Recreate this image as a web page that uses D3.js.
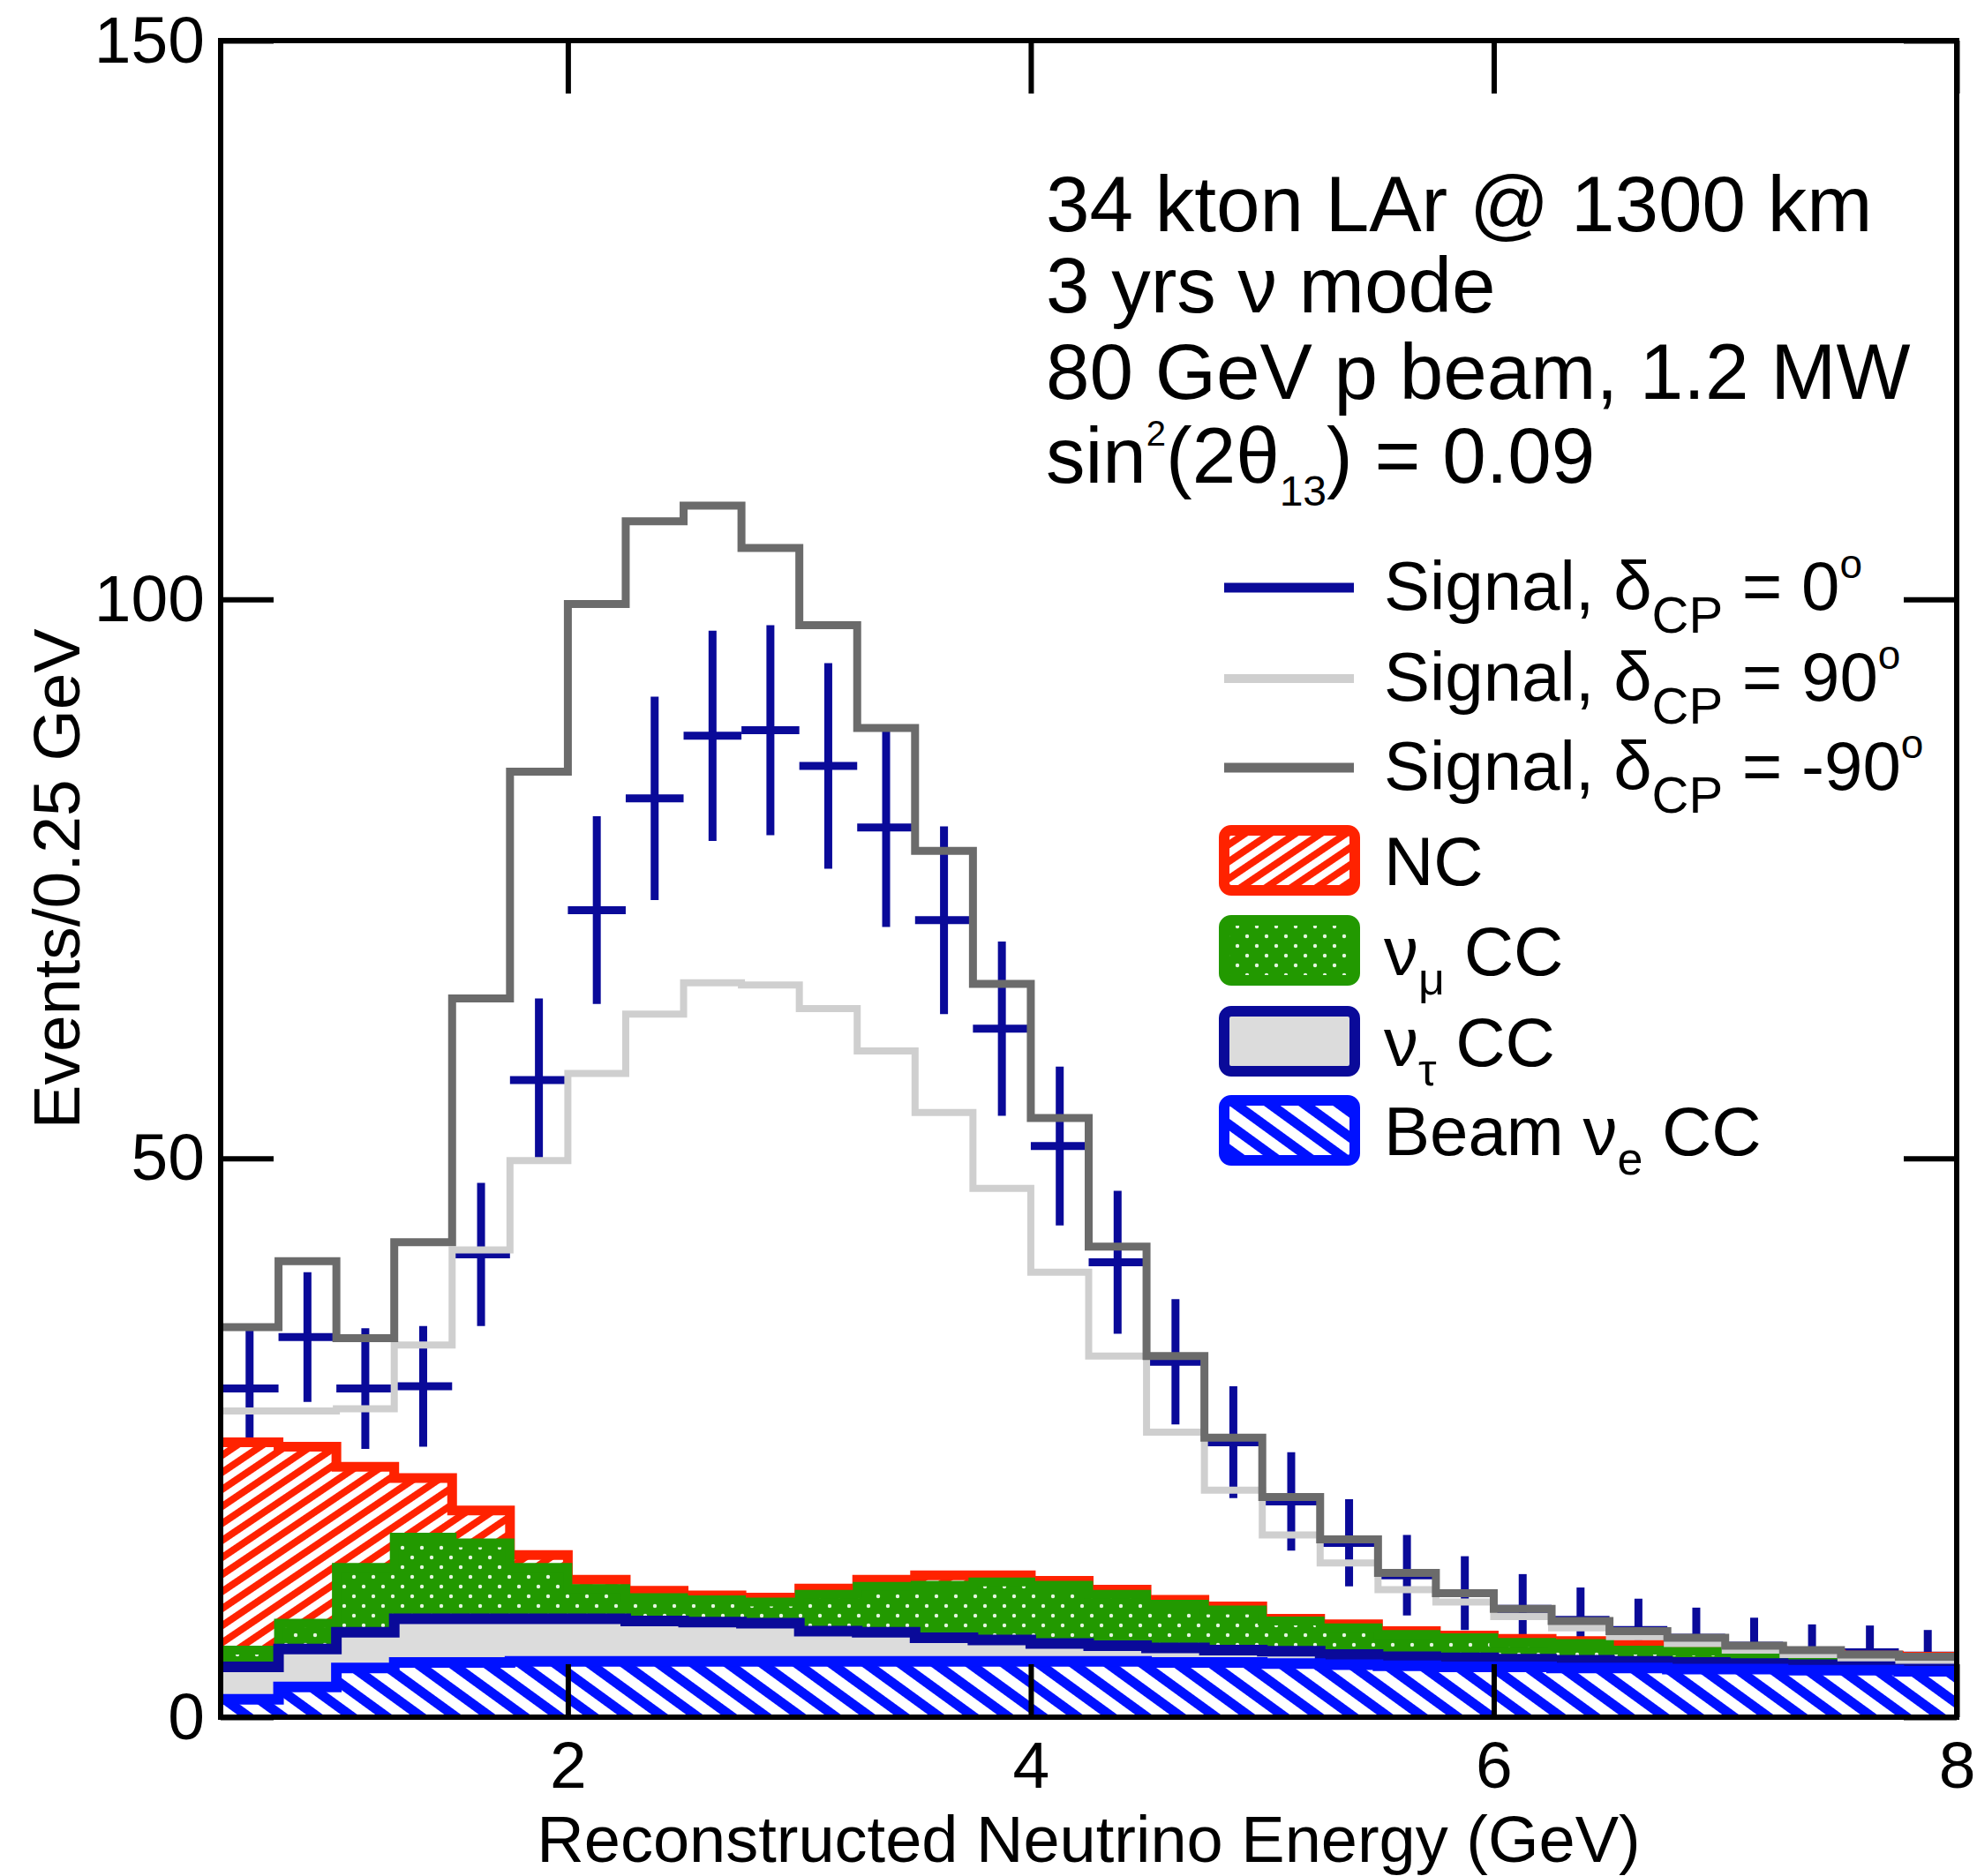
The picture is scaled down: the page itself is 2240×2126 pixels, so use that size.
<!DOCTYPE html>
<html><head><meta charset="utf-8">
<script src="https://cdn.jsdelivr.net/npm/d3@7"></script>
<style>
body{margin:0;background:#fff}
svg{display:block}
text{font-family:"Liberation Sans",Arial,Helvetica,sans-serif;fill:#000}
</style>
</head><body>
<svg id="c" width="2240" height="2126"></svg>
<script>
// ---------- data ----------
const binLow = [0.5,0.75,1.0,1.25,1.5,1.75,2.0,2.25,2.5,2.75,3.0,3.25,3.5,3.75,4.0,4.25,4.5,4.75,5.0,5.25,5.5,5.75,6.0,6.25,6.5,6.75,7.0,7.25,7.5,7.75];
const binWidth = 0.25;

// pseudo-data, signal delta_CP = 0 (with statistical errors)
const dataCP0   = [29.4,34.0,29.4,29.6,41.4,57.0,72.2,82.2,87.8,88.3,85.1,79.6,71.3,61.6,51.1,40.7,31.8,24.6,19.3,15.6,12.7,11.1,9.7,8.7,7.8,7.1,6.4,5.9,5.8,5.5];
const errCP0    = [5.4,5.8,5.4,5.4,6.4,7.3,8.4,9.1,9.4,9.4,9.2,8.9,8.4,7.8,7.1,6.4,5.6,5.0,4.4,3.9,3.6,3.3,3.1,2.9,2.8,2.7,2.5,2.4,2.4,2.3];
// signal + background, delta_CP = 90 and -90
const sigCP90   = [27.4,27.4,27.6,33.3,41.8,49.8,57.6,62.9,65.7,65.5,63.4,59.6,54.1,47.3,39.8,32.3,25.5,20.3,16.3,13.8,11.4,10.3,9.0,8.0,7.2,6.6,6.0,5.6,5.3,5.1];
const sigCPm90  = [34.9,40.8,33.9,42.5,64.3,84.6,99.6,107.0,108.4,104.6,97.7,88.5,77.5,65.6,53.6,42.1,32.3,25.0,19.7,15.9,12.9,11.1,9.7,8.6,7.7,7.1,6.4,6.0,5.6,5.4];
// stacked backgrounds (bottom to top)
const beamNueCC = [1.6,2.7,4.4,4.9,4.9,5.0,5.0,5.0,5.0,5.0,5.0,5.0,5.0,5.0,5.0,5.0,4.9,4.9,4.8,4.7,4.6,4.5,4.5,4.4,4.4,4.3,4.3,4.2,4.2,4.1];
const nutauCC   = [2.9,3.4,3.2,3.9,3.9,3.8,3.8,3.6,3.5,3.4,2.7,2.6,2.1,1.9,1.6,1.4,1.3,1.1,1.1,0.9,0.8,0.8,0.7,0.7,0.6,0.6,0.5,0.5,0.5,0.5];
const numuCC    = [1.5,2.3,5.8,7.3,6.8,4.6,2.7,2.1,2.0,1.9,3.3,4.1,4.7,5.2,5.2,4.6,3.9,3.6,2.7,2.4,2.0,1.8,1.5,1.5,1.0,1.0,0.8,0.7,0.4,0.5];
const ncBkg     = [18.6,15.8,9.0,5.3,2.9,1.1,0.8,0.6,0.4,0.4,0.5,0.6,0.9,0.6,0.4,0.4,0.4,0.3,0.2,0.3,0.3,0.2,0.3,0.2,0.5,0.2,0.3,0.2,0.4,0.3];

const xTicks = [2,4,6,8];
const yTicks = [0,50,100,150];
const xTickLabels = ["2","4","6","8"];
const yTickLabels = ["0","50","100","150"];

// ---------- layout ----------
const L = 250, R = 2217, T = 46, B = 1946;
const x = d3.scaleLinear().domain([0.5, 8]).range([L, R]);
const y = d3.scaleLinear().domain([0, 150]).range([B, T]);

const C = {
  navy: "#0a0a99", red: "#ff2200", green: "#229900", blue: "#0011ff",
  tauFill: "#dcdcdc", dark: "#6b6b6b", light: "#cfcfcf"
};

const svg = d3.select("#c");
const defs = svg.append("defs");

// red hatch (NC): lines rising to the right
const pNC = defs.append("pattern").attr("id","hatchNC").attr("patternUnits","userSpaceOnUse")
  .attr("width",40).attr("height",16).attr("patternTransform","rotate(-34)");
pNC.append("rect").attr("width",40).attr("height",16).attr("fill","#fff");
pNC.append("rect").attr("y",0).attr("width",40).attr("height",8).attr("fill",C.red);

// blue hatch (beam nue): lines descending to the right
const pBe = defs.append("pattern").attr("id","hatchBeam").attr("patternUnits","userSpaceOnUse")
  .attr("width",40).attr("height",23).attr("patternTransform","rotate(36)");
pBe.append("rect").attr("width",40).attr("height",23).attr("fill","#fff");
pBe.append("rect").attr("y",0).attr("width",40).attr("height",11).attr("fill",C.blue);

// green with white dots (numu)
const pMu = defs.append("pattern").attr("id","dotsMu").attr("patternUnits","userSpaceOnUse")
  .attr("width",22).attr("height",22);
pMu.append("rect").attr("width",22).attr("height",22).attr("fill",C.green);
pMu.append("circle").attr("cx",5).attr("cy",5).attr("r",2.2).attr("fill","#e6f7e0");
pMu.append("circle").attr("cx",16).attr("cy",16).attr("r",2.2).attr("fill","#e6f7e0");

// ---------- helpers ----------
function stepPoints(vals){
  const pts = [];
  vals.forEach((v,i)=>{ pts.push([binLow[i], v]); pts.push([binLow[i]+binWidth, v]); });
  return pts;
}
const stepLine = d3.line().x(d=>x(d[0])).y(d=>y(d[1]));
const stepArea = d3.area().x(d=>x(d[0])).y0(y(0)).y1(d=>y(d[1]));

// cumulative stack
const cumBeam = beamNueCC.map((v)=>v);
const cumTau  = beamNueCC.map((v,i)=>v+nutauCC[i]);
const cumMu   = cumTau.map((v,i)=>v+numuCC[i]);
const cumNC   = cumMu.map((v,i)=>v+ncBkg[i]);

const plot = svg.append("g");

// ---------- data points (drawn first, under stack and lines) ----------
const pts = plot.append("g").attr("stroke",C.navy).attr("stroke-width",9).attr("fill","none");
dataCP0.forEach((v,i)=>{
  const xc = x(binLow[i]+binWidth/2);
  pts.append("line").attr("x1",xc).attr("x2",xc).attr("y1",y(v+errCP0[i])).attr("y2",y(Math.max(0,v-errCP0[i])));
  pts.append("line").attr("x1",x(binLow[i])).attr("x2",x(binLow[i]+binWidth)).attr("y1",y(v)).attr("y2",y(v));
});

// ---------- stacked backgrounds ----------
function stackLayer(cum, fill, stroke, sw){
  const p = stepPoints(cum);
  plot.append("path").attr("d",stepArea(p)).attr("fill",fill);
  plot.append("path").attr("d",stepLine(p)).attr("fill","none").attr("stroke",stroke)
    .attr("stroke-width",sw).attr("stroke-linejoin","miter");
}
stackLayer(cumNC, "url(#hatchNC)", C.red, 11);
stackLayer(cumMu, "url(#dotsMu)", C.green, 10);
stackLayer(cumTau, C.tauFill, C.navy, 12);
stackLayer(cumBeam, "url(#hatchBeam)", C.blue, 12);

// ---------- signal curves ----------
plot.append("path").attr("d",stepLine(stepPoints(sigCP90))).attr("fill","none")
  .attr("stroke",C.light).attr("stroke-width",8);
plot.append("path").attr("d",stepLine(stepPoints(sigCPm90))).attr("fill","none")
  .attr("stroke",C.dark).attr("stroke-width",9);

// ---------- axes ----------
const fs = 75;
const axL = svg.append("g").attr("transform",`translate(${L},0)`)
  .call(d3.axisLeft(y).tickValues(yTicks).tickFormat((d,i)=>yTickLabels[i]).tickSizeInner(-60).tickSizeOuter(0).tickPadding(18));
const axB = svg.append("g").attr("transform",`translate(0,${B})`)
  .call(d3.axisBottom(x).tickValues(xTicks).tickFormat((d,i)=>xTickLabels[i]).tickSizeInner(-60).tickSizeOuter(0).tickPadding(27));
const axR = svg.append("g").attr("transform",`translate(${R},0)`)
  .call(d3.axisRight(y).tickValues(yTicks).tickFormat("").tickSizeInner(-60).tickSizeOuter(0));
const axT = svg.append("g").attr("transform",`translate(0,${T})`)
  .call(d3.axisTop(x).tickValues(xTicks).tickFormat("").tickSizeInner(-60).tickSizeOuter(0));
[axL,axB,axR,axT].forEach(a=>{
  a.select(".domain").remove();
  a.selectAll("line").attr("stroke","#000").attr("stroke-width",6);
  a.selectAll("text").attr("font-size",fs).attr("font-family",'"Liberation Sans",Arial,sans-serif').attr("fill","#000");
});
svg.append("rect").attr("x",L).attr("y",T).attr("width",R-L).attr("height",B-T)
  .attr("fill","none").attr("stroke","#000").attr("stroke-width",6);

// axis titles
svg.append("text").attr("x",(L+R)/2).attr("y",2110).attr("text-anchor","middle").attr("font-size",74)
  .text("Reconstructed Neutrino Energy (GeV)");
svg.append("text").attr("transform",`translate(90,${(T+B)/2}) rotate(-90)`).attr("text-anchor","middle")
  .attr("font-size",fs).text("Events/0.25 GeV");

// ---------- annotation ----------
const ann = svg.append("g").attr("font-size",89);
ann.append("text").attr("x",1185).attr("y",262).text("34 kton LAr @ 1300 km");
ann.append("text").attr("x",1185).attr("y",354).text("3 yrs \u03bd mode");
ann.append("text").attr("x",1185).attr("y",452).text("80 GeV p beam, 1.2 MW");
const a4 = ann.append("text").attr("x",1185).attr("y",547);
a4.append("tspan").text("sin");
a4.append("tspan").attr("font-size",40).attr("dy",-42).text("2");
a4.append("tspan").attr("dy",42).text("(2\u03b8");
a4.append("tspan").attr("font-size",48).attr("dy",26).text("13");
a4.append("tspan").attr("dy",-26).text(") = 0.09");

// ---------- legend ----------
const lg = svg.append("g").attr("font-size",78);
const lx0 = 1387, lx1 = 1534, tx = 1568;
const lineRows = [
  {y:666, color:C.navy, w:11, deg:"0"},
  {y:769, color:C.light, w:10, deg:"90"},
  {y:870, color:C.dark, w:11, deg:"-90"}
];
lineRows.forEach(r=>{
  lg.append("line").attr("x1",lx0).attr("x2",lx1).attr("y1",r.y).attr("y2",r.y)
    .attr("stroke",r.color).attr("stroke-width",r.w);
  const t = lg.append("text").attr("x",tx).attr("y",r.y+25);
  t.append("tspan").text("Signal, \u03b4");
  t.append("tspan").attr("font-size",58).attr("dy",26).text("CP");
  t.append("tspan").attr("dy",-26).text(" = " + r.deg);
  t.append("tspan").attr("font-size",46).attr("dy",-36).text("o");
});
const boxRows = [
  {y:975, fill:"url(#hatchNC)", stroke:C.red, main:"NC", sub:null, tail:""},
  {y:1077, fill:"url(#dotsMu)", stroke:C.green, main:"\u03bd", sub:"\u03bc", tail:" CC"},
  {y:1180, fill:C.tauFill, stroke:C.navy, main:"\u03bd", sub:"\u03c4", tail:" CC"},
  {y:1281, fill:"url(#hatchBeam)", stroke:C.blue, main:"Beam \u03bd", sub:"e", tail:" CC"}
];
boxRows.forEach(r=>{
  lg.append("rect").attr("x",lx0).attr("y",r.y-34).attr("width",lx1+1-lx0).attr("height",68)
    .attr("rx",8).attr("fill",r.fill).attr("stroke",r.stroke).attr("stroke-width",12);
  const t = lg.append("text").attr("x",tx).attr("y",r.y+28);
  t.append("tspan").text(r.main);
  if(r.sub){
    t.append("tspan").attr("font-size",52).attr("dy",22).text(r.sub);
    t.append("tspan").attr("dy",-22).text(r.tail);
  }
});
</script>
</body></html>
